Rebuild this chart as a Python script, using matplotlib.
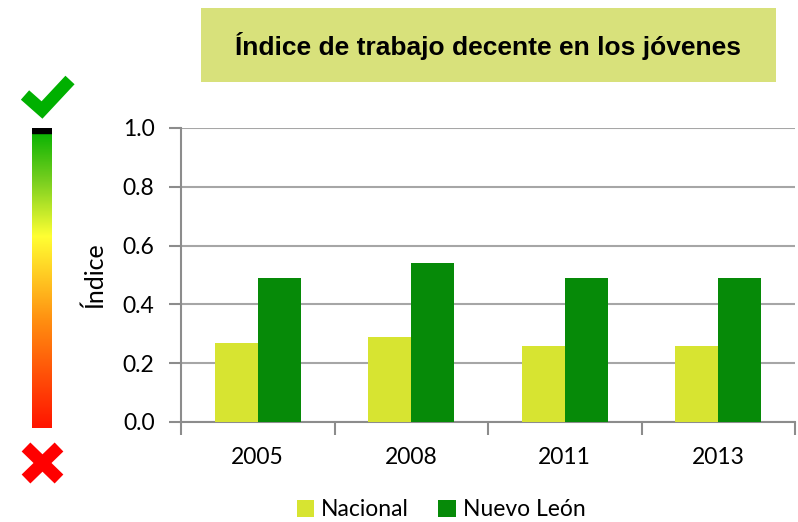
import numpy as np
import matplotlib
matplotlib.use('Agg')
import matplotlib.pyplot as plt
from matplotlib.colors import LinearSegmentedColormap
from matplotlib.patches import Rectangle

years = ['2005', '2008', '2011', '2013']
nacional = [0.27, 0.29, 0.26, 0.26]
nuevo_leon = [0.49, 0.54, 0.49, 0.49]

plt.rcParams['font.family'] = ['Lato', 'DejaVu Sans']

W, H = 798, 522
fig = plt.figure(figsize=(W/100, H/100), dpi=100)

ax = fig.add_axes([181/W, 1-422/H, 614/W, 294/H])
x = np.arange(len(years))
bw = 0.28
ax.bar(x - bw/2, nacional, bw, color='#d7e431', label='Nacional', zorder=3)
ax.bar(x + bw/2, nuevo_leon, bw, color='#068a08', label='Nuevo León', zorder=3)

ax.set_xlim(-0.5, len(years) - 0.5)
ax.set_ylim(0, 1.0)
ax.set_yticks(np.arange(0, 1.01, 0.2))
ax.set_yticklabels(['%.1f' % v for v in np.arange(0, 1.01, 0.2)], fontsize=16.5)
ax.set_xticks(x)
ax.set_xticklabels(years, fontsize=16.5)
ax.set_xticks(np.arange(-0.5, len(years)), minor=True)
ax.tick_params(axis='x', which='major', length=0, pad=18)
ax.tick_params(axis='x', which='minor', length=9, width=1.5, color='#8c8c8c')
ax.tick_params(axis='y', length=9, width=1.5, color='#8c8c8c', pad=10)
ax.grid(axis='y', color='#a6a6a6', linewidth=1.5, zorder=0)
for s in ['top', 'right']:
    ax.spines[s].set_visible(False)
for s in ['left', 'bottom']:
    ax.spines[s].set_color('#8c8c8c')
    ax.spines[s].set_linewidth(1.5)
ax.set_ylabel('Índice', fontsize=18, labelpad=12)

leg = fig.legend(loc='center', bbox_to_anchor=(441/W, 1-510/H), ncol=2, frameon=False,
                 fontsize=16.5, handlelength=0.75, handleheight=0.75, handletextpad=0.3,
                 columnspacing=1.3)

# title box
fig.patches.append(Rectangle((201/W, 1-82/H), 575/W, 74/H, transform=fig.transFigure,
                             facecolor='#d8e17b', edgecolor='none', zorder=0))
fig.text(488/W, 1-46/H, 'Índice de trabajo decente en los jóvenes', ha='center', va='center',
         fontsize=19, fontweight='bold', family=['Liberation Sans', 'DejaVu Sans'])

# colour scale on the left
cmap = LinearSegmentedColormap.from_list('sem', [(0, '#ff1400'), (0.35, '#ff8c10'),
                                                 (0.64, '#ffff33'), (0.82, '#7cd020'),
                                                 (1.0, '#00b000')])
cax = fig.add_axes([32/W, 1-428/H, 20/W, 300/H])
cax.imshow(np.linspace(0, 1, 256)[:, None], cmap=cmap, aspect='auto', origin='lower',
           extent=[0, 1, 0, 1])
cax.axhspan(0.985, 1.0, color='black')
cax.set_xlim(0, 1)
cax.set_ylim(0, 1)
cax.axis('off')

# check mark and cross
ov = fig.add_axes([0, 0, 1, 1], zorder=-1)
ov.set_xlim(0, W)
ov.set_ylim(H, 0)
ov.axis('off')
ov.plot([25, 42, 70], [95, 110, 80], color='#00b000', linewidth=9, solid_capstyle='butt',
        solid_joinstyle='miter')
ov.plot([26, 59], [447, 479], color='#ff0000', linewidth=9, solid_capstyle='butt')
ov.plot([26, 59], [479, 447], color='#ff0000', linewidth=9, solid_capstyle='butt')

fig.savefig('out.png', dpi=100)
